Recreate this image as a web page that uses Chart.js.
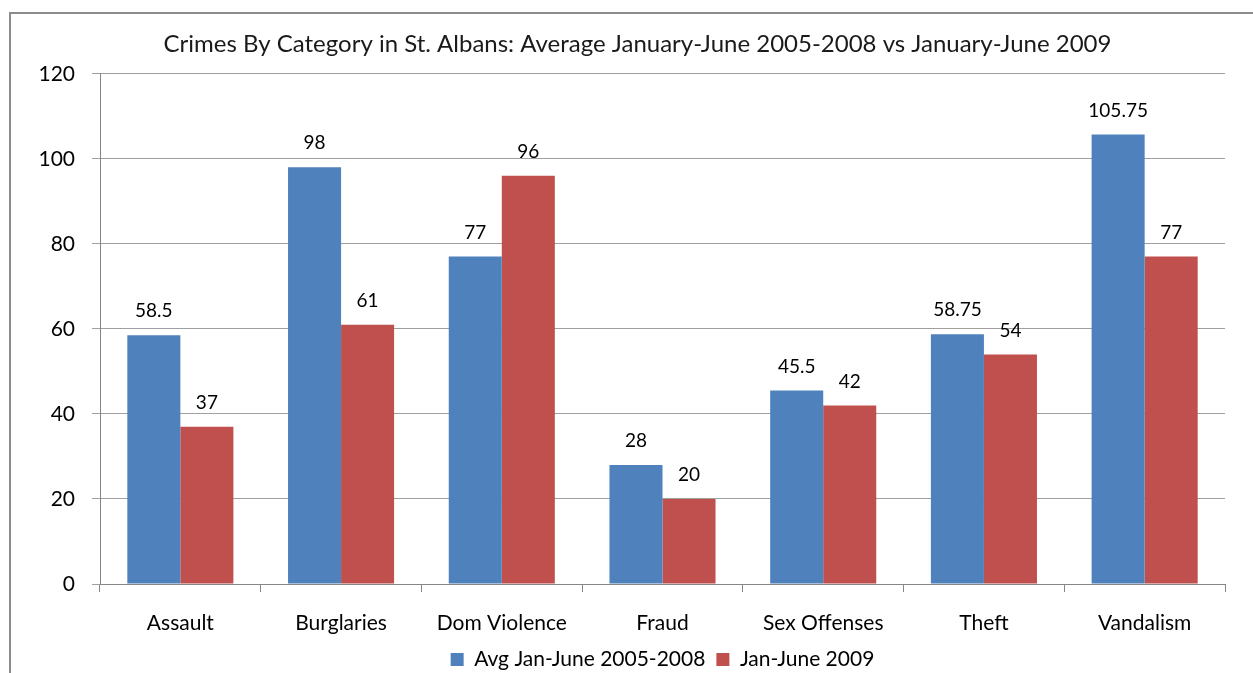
<!DOCTYPE html>
<html>
<head>
<meta charset="utf-8">
<script src="https://cdn.jsdelivr.net/npm/chart.js@4"></script>
<style>
  html, body { margin: 0; padding: 0; background: #fff; overflow: hidden; }
  #wrap { width: 1253px; height: 673px; position: relative; overflow: hidden; }
</style>
</head>
<body>
<div id="wrap"><canvas id="chartCrimes" width="1253" height="680"></canvas></div>
<script>
const categorias = ['Assault', 'Burglaries', 'Dom Violence', 'Fraud', 'Sex Offenses', 'Theft', 'Vandalism'];
const promedio0508 = [58.5, 98, 77, 28, 45.5, 58.75, 105.75];
const enero2009 = [37, 61, 96, 20, 42, 54, 77];
const ticksY = [0, 20, 40, 60, 80, 100, 120];

const fuente = 'Lato, "Open Sans", sans-serif';

// marco gris alrededor del grafico (el lado derecho queda fuera)
const marco = {
    id: 'marco',
    beforeDraw(chart) {
        const ctx = chart.ctx;
        ctx.save();
        ctx.fillStyle = '#fff';
        ctx.fillRect(0, 0, chart.width, chart.height);
        ctx.strokeStyle = '#8c8c8c';
        ctx.lineWidth = 2;
        ctx.strokeRect(10, 13, 1280, 720);
        ctx.restore();
    }
};

// etiquetas con el valor encima de cada barra
const etiquetas = {
    id: 'etiquetas',
    afterDatasetsDraw(chart) {
        const ctx = chart.ctx;
        ctx.save();
        ctx.font = '19px ' + fuente;
        ctx.fillStyle = '#000';
        ctx.textAlign = 'center';
        ctx.textBaseline = 'middle';
        chart.data.datasets.forEach((ds, i) => {
            chart.getDatasetMeta(i).data.forEach((bar, j) => {
                ctx.fillText(String(ds.data[j]), bar.x, bar.y - 24);
            });
        });
        ctx.restore();
    }
};

const ctxCrimes = document.getElementById('chartCrimes').getContext('2d');

new Chart(ctxCrimes, {
    type: 'bar',
    data: {
        labels: categorias,
        datasets: [
            {
                label: 'Avg Jan-June 2005-2008',
                data: promedio0508,
                backgroundColor: '#4f81bd'
            },
            {
                label: 'Jan-June 2009',
                data: enero2009,
                backgroundColor: '#c0504d'
            }
        ]
    },
    options: {
        responsive: false,
        animation: false,
        events: [],
        categoryPercentage: 0.66,
        barPercentage: 1,
        layout: {
            padding: { left: 30, right: 8, top: 0, bottom: 0 }
        },
        scales: {
            x: {
                grid: {
                    drawOnChartArea: false,
                    color: '#868686',
                    tickLength: 8,
                    offset: true
                },
                border: { color: '#868686', width: 1 },
                ticks: {
                    color: '#000',
                    padding: 19,
                    font: { family: fuente, size: 21 }
                },
                afterFit: (s) => { s.height = 54; }
            },
            y: {
                min: 0,
                max: 120,
                afterBuildTicks: (s) => { s.ticks = ticksY.map(v => ({ value: v })); },
                grid: {
                    color: '#a0a0a0',
                    tickLength: 8
                },
                border: { color: '#868686', width: 1 },
                ticks: {
                    color: '#000',
                    padding: 17,
                    font: { family: fuente, size: 21 }
                },
                afterFit: (s) => { s.width = 70; }
            },
            // eje vacio a la derecha, solo para dejar margen
            margen: {
                type: 'linear',
                position: 'right',
                grid: { display: false },
                border: { display: false },
                ticks: { display: false },
                afterFit: (s) => { s.width = 20; }
            }
        },
        plugins: {
            title: {
                display: true,
                text: 'Crimes By Category in St. Albans: Average January-June 2005-2008 vs January-June 2009',
                color: '#1a1a1a',
                font: { family: fuente, size: 24, weight: 'normal' },
                padding: { top: 30, bottom: 15 }
            },
            legend: {
                position: 'bottom',
                fullSize: false,
                labels: {
                    color: '#000',
                    boxWidth: 13,
                    boxHeight: 13,
                    font: { family: fuente, size: 21 },
                    padding: 11
                }
            },
            tooltip: { enabled: false }
        }
    },
    plugins: [marco, etiquetas]
});
</script>
</body>
</html>
